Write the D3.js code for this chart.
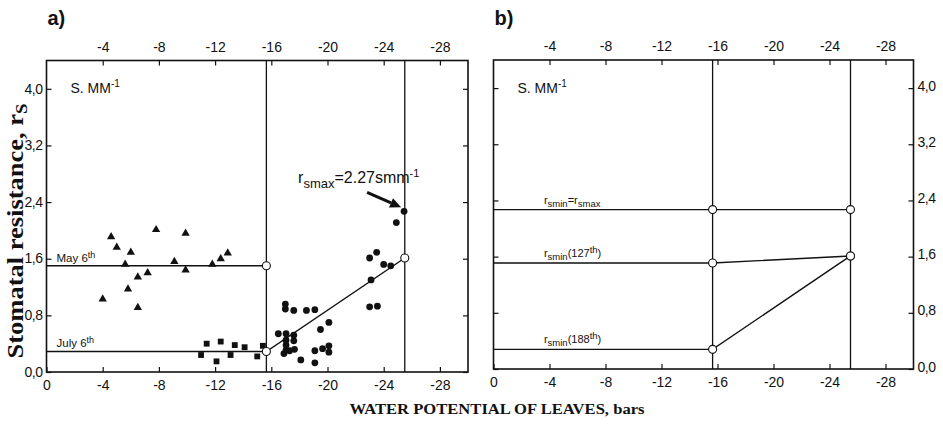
<!DOCTYPE html>
<html>
<head>
<meta charset="utf-8">
<script src="https://cdn.jsdelivr.net/npm/d3@7"></script>
<style>
  body { margin: 0; background: #fff; }
  text { fill: #111; }
  .tick text { font-family: "Liberation Sans", Arial, sans-serif; font-size: 14px; }
</style>
</head>
<body>
<svg id="chart" width="943" height="427"></svg>
<script>
// --- data ---
const xTicks = [0, -4, -8, -12, -16, -20, -24, -28];
const xTopTicks = [-4, -8, -12, -16, -20, -24, -28];
const yTicks = [0, 0.8, 1.6, 2.4, 3.2, 4.0];

// break points of the water potential (bars)
const psiBreaks = [-15.65, -25.5];

// May 6th (triangles)
const mayPsi = [-4.0, -4.6, -5.0, -5.8, -5.6, -6.0, -6.5, -6.5, -7.2, -7.8, -9.1, -9.9, -9.9, -11.8, -12.4, -12.9];
const mayRs  = [1.03, 1.91, 1.76, 1.17, 1.52, 1.69, 1.34, 0.91, 1.40, 2.01, 1.56, 1.96, 1.44, 1.52, 1.60, 1.68];

// July 6th (squares)
const julyPsi = [-11.0, -11.4, -12.1, -12.4, -13.1, -13.4, -14.1, -15.0, -15.4];
const julyRs  = [0.24, 0.40, 0.15, 0.43, 0.24, 0.38, 0.35, 0.22, 0.37];

// dots
const dotPsi = [-25.45, -24.9, -23.0, -23.5, -24.0, -24.5, -23.1, -23.0, -23.55, -17.0, -17.0, -17.6, -18.5, -19.1, -20.1, -19.5,
                -16.5, -17.05, -17.6, -17.05, -17.6, -17.05, -17.05, -17.65, -16.9, -17.3, -18.1, -19.1, -19.1, -19.65, -20.1, -20.1];
const dotRs  = [2.27, 2.11, 1.61, 1.69, 1.52, 1.50, 1.30, 0.92, 0.93, 0.96, 0.89, 0.87, 0.87, 0.88, 0.70, 0.60,
                0.54, 0.54, 0.52, 0.45, 0.44, 0.38, 0.31, 0.32, 0.26, 0.30, 0.17, 0.30, 0.13, 0.33, 0.37, 0.28];

// fitted levels panel a
const mayLevel = 1.50;
const julyLevel = 0.29;
const rsAtBreak = 1.61;
const rsMax = 2.27;

// panel b lines
const bLabels = [["r", "smin", "=r", "smax", ""], ["r", "smin", "(127", "th", ")"], ["r", "smin", "(188", "th", ")"]];
const bStart = [2.27, 1.51, 0.28];
const bEnd   = [2.27, 1.61, 1.61];

// --- layout ---
const svg = d3.select("#chart");
const sans = '"Liberation Sans", Arial, sans-serif';
const serif = '"Liberation Serif", "Times New Roman", serif';

const panels = [
  { name: "a)", x0: 46.5, x1: 468, y0: 372, y1: 60.5, labelSide: "left" },
  { name: "b)", x0: 493.5, x1: 913.5, y0: 369, y1: 60, labelSide: "right" }
];

panels.forEach(p => {
  p.x = d3.scaleLinear().domain([0, -30]).range([p.x0, p.x1]);
  p.y = d3.scaleLinear().domain([0, 4.4]).range([p.y0, p.y1]);
  p.g = svg.append("g");
});

const fmtX = d => d === 0 ? "0" : "-" + Math.abs(d);
const fmtY = d => d.toFixed(1).replace(".", ",");

panels.forEach(p => {
  const g = p.g;

  // bottom axis
  g.append("g")
    .attr("transform", `translate(0,${p.y0})`)
    .call(d3.axisBottom(p.x).tickValues(xTicks).tickFormat(fmtX).tickSizeInner(-5).tickSizeOuter(0).tickPadding(8))
    .call(a => a.select(".domain").remove());

  // top axis
  g.append("g")
    .attr("transform", `translate(0,${p.y1})`)
    .call(d3.axisTop(p.x).tickValues(xTopTicks).tickFormat(fmtX).tickSizeInner(-5).tickSizeOuter(0).tickPadding(9))
    .call(a => a.select(".domain").remove());

  // left / right axes
  const labelLeft = p.labelSide === "left";
  g.append("g")
    .attr("transform", `translate(${p.x0},0)`)
    .call(d3.axisLeft(p.y).tickValues(yTicks).tickFormat(labelLeft ? fmtY : "").tickSizeInner(-5).tickSizeOuter(0).tickPadding(4))
    .call(a => a.select(".domain").remove())
    .call(a => a.selectAll("text").attr("dy", "0.3em").style("letter-spacing", "-0.5px"));
  g.append("g")
    .attr("transform", `translate(${p.x1},0)`)
    .call(d3.axisRight(p.y).tickValues(yTicks).tickFormat(labelLeft ? "" : fmtY).tickSizeInner(-5).tickSizeOuter(0).tickPadding(4))
    .call(a => a.select(".domain").remove())
    .call(a => a.selectAll("text").attr("dy", "0.15em").style("letter-spacing", "-0.5px"));

  g.selectAll(".tick line").attr("stroke", "#111").attr("stroke-width", 1.2);

  // frame
  g.append("rect")
    .attr("x", p.x0).attr("y", p.y1)
    .attr("width", p.x1 - p.x0).attr("height", p.y0 - p.y1)
    .attr("fill", "none").attr("stroke", "#111").attr("stroke-width", 1.6);

  // vertical break lines
  psiBreaks.forEach(b => {
    g.append("line")
      .attr("x1", p.x(b)).attr("x2", p.x(b))
      .attr("y1", p.y1).attr("y2", p.y0)
      .attr("stroke", "#111").attr("stroke-width", 1.3);
  });

  // panel letter
  svg.append("text")
    .attr("x", p.x0 + 1).attr("y", 25)
    .style("font-family", sans).style("font-size", "20px").style("font-weight", "bold")
    .text(p.name);

  // unit label
  const u = svg.append("text")
    .attr("x", p.x0 + 24).attr("y", 93)
    .style("font-family", sans).style("font-size", "14px");
  u.append("tspan").text("S. MM");
  u.append("tspan").attr("dy", -6).style("font-size", "10px").text("-1");
});

const line = d3.line();
const A = panels[0], B = panels[1];

// helper for r-subscript labels
function richText(x, y, parts, size, subSize) {
  const t = svg.append("text").attr("x", x).attr("y", y)
    .style("font-family", sans).style("font-size", size + "px");
  t.append("tspan").text(parts[0]);
  t.append("tspan").attr("dy", 3).style("font-size", subSize + "px").text(parts[1]);
  if (parts[3] === "smax") {
    t.append("tspan").attr("dy", -3).text(parts[2]);
    t.append("tspan").attr("dy", 3).style("font-size", subSize + "px").text(parts[3]);
  } else {
    t.append("tspan").attr("dy", -3).text(parts[2]);
    t.append("tspan").attr("dy", -4).style("font-size", subSize + "px").text(parts[3]);
    t.append("tspan").attr("dy", 4).text(parts[4]);
  }
  return t;
}

// --- panel a ---
const gA = A.g;
const mayLine = [[0, mayLevel], [psiBreaks[0], mayLevel]];
const julyLine = [[0, julyLevel], [psiBreaks[0], julyLevel], [psiBreaks[1], rsAtBreak]];
[mayLine, julyLine].forEach(pts => {
  gA.append("path")
    .attr("d", line(pts.map(d => [A.x(d[0]), A.y(d[1])])))
    .attr("fill", "none").attr("stroke", "#111").attr("stroke-width", 1.4);
});

// triangles
gA.selectAll(".tri").data(d3.zip(mayPsi, mayRs)).join("path")
  .attr("class", "tri")
  .attr("transform", d => `translate(${A.x(d[0])},${A.y(d[1])})`)
  .attr("d", d3.symbol(d3.symbolTriangle, 30))
  .attr("fill", "#111");

// squares
gA.selectAll(".sq").data(d3.zip(julyPsi, julyRs)).join("path")
  .attr("class", "sq")
  .attr("transform", d => `translate(${A.x(d[0])},${A.y(d[1])})`)
  .attr("d", d3.symbol(d3.symbolSquare, 34))
  .attr("fill", "#111");

// dots
gA.selectAll(".dot").data(d3.zip(dotPsi, dotRs)).join("circle")
  .attr("class", "dot")
  .attr("cx", d => A.x(d[0])).attr("cy", d => A.y(d[1]))
  .attr("r", 3.4).attr("fill", "#111");

// open circles
const openA = [[psiBreaks[0], mayLevel], [psiBreaks[0], julyLevel], [psiBreaks[1], rsAtBreak]];
gA.selectAll(".open").data(openA).join("circle")
  .attr("class", "open")
  .attr("cx", d => A.x(d[0])).attr("cy", d => A.y(d[1]))
  .attr("r", 4).attr("fill", "#fff").attr("stroke", "#111").attr("stroke-width", 1.1);

// date labels
[["May 6", mayLevel], ["July 6", julyLevel]].forEach(([lbl, lv]) => {
  const t = svg.append("text")
    .attr("x", A.x(0) + 10).attr("y", A.y(lv) - 4)
    .style("font-family", sans).style("font-size", "11.5px");
  t.append("tspan").text(lbl);
  t.append("tspan").attr("dy", -4).style("font-size", "9px").text("th");
});

// rsmax annotation
const mx = A.x(dotPsi[0]), my = A.y(dotRs[0]);
const ann = svg.append("text")
  .attr("x", mx - 106).attr("y", my - 28)
  .style("font-family", sans).style("font-size", "16px");
ann.append("tspan").text("r");
ann.append("tspan").attr("dy", 5).style("font-size", "13px").text("smax");
ann.append("tspan").attr("dy", -5).text("=2.27smm");
ann.append("tspan").attr("dy", -6).style("font-size", "11px").text("-1");

const tip = [mx - 3, my - 4], tail = [mx - 37, my - 19];
const ang = Math.atan2(tip[1] - tail[1], tip[0] - tail[0]);
const hb = [tip[0] - 11 * Math.cos(ang), tip[1] - 11 * Math.sin(ang)];
gA.append("line")
  .attr("x1", tail[0]).attr("y1", tail[1]).attr("x2", hb[0]).attr("y2", hb[1])
  .attr("stroke", "#111").attr("stroke-width", 3);
gA.append("path")
  .attr("d", line([
    tip,
    [hb[0] + 5 * Math.sin(ang), hb[1] - 5 * Math.cos(ang)],
    [hb[0] - 5 * Math.sin(ang), hb[1] + 5 * Math.cos(ang)]
  ]) + "Z")
  .attr("fill", "#111");

// --- panel b ---
const gB = B.g;
bStart.forEach((s, i) => {
  const pts = [[0, s], [psiBreaks[0], s], [psiBreaks[1], bEnd[i]]];
  gB.append("path")
    .attr("d", line(pts.map(d => [B.x(d[0]), B.y(d[1])])))
    .attr("fill", "none").attr("stroke", "#111").attr("stroke-width", 1.4);
  richText(B.x(-3.6), B.y(s) - 6, bLabels[i], 11, 9.5);
});
const openB = [];
bStart.forEach((s, i) => { openB.push([psiBreaks[0], s]); openB.push([psiBreaks[1], bEnd[i]]); });
gB.selectAll(".open").data(openB).join("circle")
  .attr("class", "open")
  .attr("cx", d => B.x(d[0])).attr("cy", d => B.y(d[1]))
  .attr("r", 4).attr("fill", "#fff").attr("stroke", "#111").attr("stroke-width", 1.1);

// --- axis titles ---
const yt = svg.append("text")
  .attr("transform", "translate(23,231) rotate(-90)")
  .attr("text-anchor", "middle")
  .attr("textLength", 255).attr("lengthAdjust", "spacingAndGlyphs")
  .style("font-family", serif).style("font-size", "24px").style("font-weight", "bold");
yt.append("tspan").text("Stomatal resistance, r");
yt.append("tspan").attr("dy", 4).style("font-size", "17px").text("S");

svg.append("text")
  .attr("x", 497).attr("y", 414)
  .attr("text-anchor", "middle")
  .attr("textLength", 295).attr("lengthAdjust", "spacingAndGlyphs")
  .style("font-family", serif).style("font-size", "14px").style("font-weight", "bold")
  .text("WATER POTENTIAL OF LEAVES, bars");
</script>
</body>
</html>
